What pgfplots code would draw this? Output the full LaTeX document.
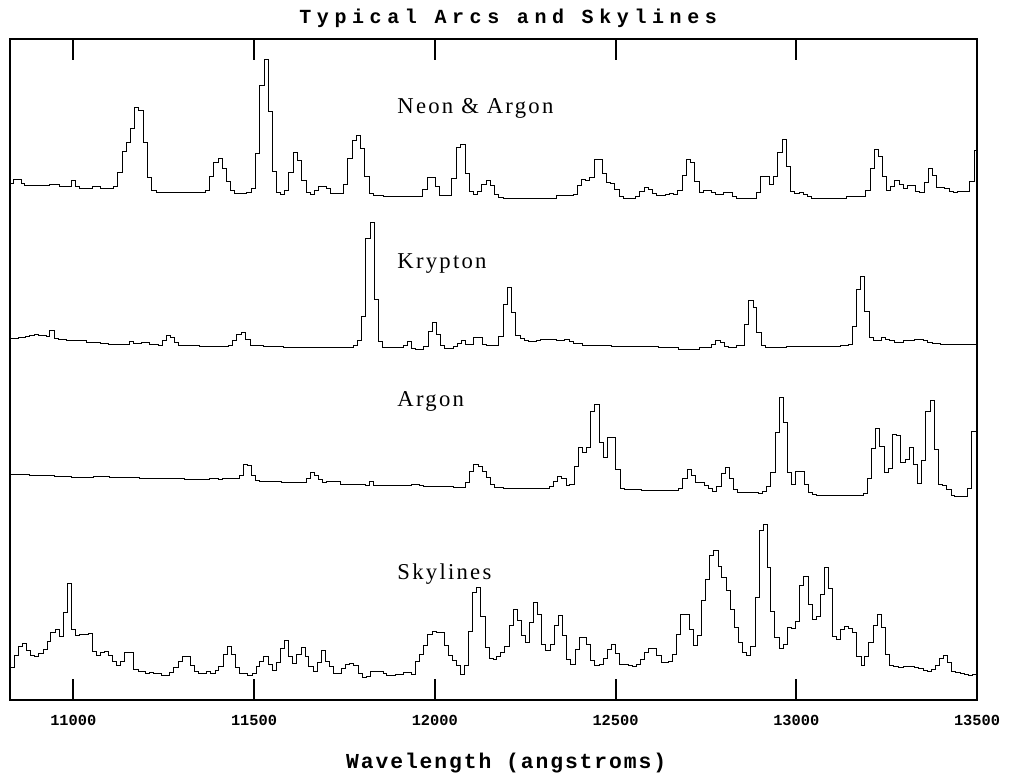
\documentclass[border=0pt]{standalone}
\usepackage{pgfplots}
\pgfplotsset{compat=1.18}
\usepackage{fontspec}
\setmainfont{Liberation Serif}
\newfontfamily\titlefont{Liberation Mono}[LetterSpace=28]
\newfontfamily\xlabfont{Liberation Mono}[LetterSpace=9]
\newfontfamily\tickfont{Liberation Mono}
\newfontfamily\labelfont{Liberation Serif}[LetterSpace=10]
\begin{document}
\begin{tikzpicture}
\useasboundingbox (0,0) rectangle (762pt,585pt);
\begin{axis}[
  at={(7.5pt,60pt)}, anchor=south west,
  scale only axis, width=725.25pt, height=495.75pt,
  xmin=10825, xmax=13500, ymin=0, ymax=661,
  xtick={11000,11500,12000,12500,13000,13500}, ytick=\empty,
  scaled x ticks=false,
  tick align=inside, xtick pos=both,
  major tick length=15.75pt,
  every tick/.style={black, line width=1.5pt},
  axis line style={line width=1.5pt},
  /pgf/number format/assume math mode=true,
  /pgf/number format/1000 sep={},
  x tick label style={font=\tickfont\bfseries\fontsize{11.5}{13}\selectfont, anchor=base, yshift=-19.5pt},
  title={\titlefont\bfseries\fontsize{15}{18}\selectfont Typical Arcs and Skylines},
  every axis title/.style={at={(0.5,1)}, anchor=base, yshift=11.25pt, xshift=11pt},
  xlabel={\xlabfont\bfseries\fontsize{16}{18}\selectfont Wavelength (angstroms)},
  xlabel style={at={(0.5,0)}, anchor=base, yshift=-51.75pt, xshift=9.5pt},
  clip=true,
]
% Neon & Argon
\addplot[const plot, black, line width=0.7pt] table {
x y
10825 516.7
10834 520.7
10857 516.7
10866 514.7
10935 515.7
10961 514
10995 519.7
11007 514
11018 511.7
11053 513.7
11074 512
11111 514
11123 527.3
11135 548.3
11146 557.3
11157 571.7
11169 592.3
11181 590
11194 557.3
11205 522.7
11217 509.3
11231 508
11295 507.3
11366 510
11376 523.3
11389 537.7
11401 541.7
11413 531.7
11424 518.3
11435 510
11447 506.7
11479 507.7
11493 511.7
11504 546.7
11516 615
11528 641
11540 588.3
11551 529
11562 507.7
11574 505.7
11585 510
11596 527.7
11609 547.3
11621 540
11632 520
11644 507.3
11655 506
11667 509.3
11678 513.3
11701 511.3
11712 506.5
11747 515.7
11759 541.7
11771 560
11784 564.3
11795 551.7
11805 524
11818 506.7
11830 504.3
11858 503.3
11966 511
11979 522.7
12002 513.3
12014 505
12025 504.3
12047 521.7
12059 552.3
12070 555.7
12084 526.7
12096 508.3
12107 505.7
12118 508.3
12130 515.7
12142 519.3
12153 515
12165 506
12176 502.7
12190 501.7
12337 504.5
12383 506
12394 515
12406 520.7
12418 520
12429 522.7
12441 541
12464 526.7
12475 517.7
12487 516.7
12498 510.7
12510 504
12521 501.7
12556 504
12567 508.3
12580 512.3
12591 510.7
12603 506.7
12614 505
12637 505.5
12648 506.7
12660 506
12672 510
12684 525
12695 541
12708 537.7
12718 518.3
12731 507.7
12743 509.3
12766 507.3
12777 506
12798 507.7
12823 504
12835 501.3
12890 507.3
12902 523.3
12914 524
12927 516
12938 523.3
12949 547.7
12961 561
12973 533.3
12984 508.3
12996 506.7
13008 508
13019 506
13031 503.3
13043 501.7
13140 503.3
13192 510
13204 531.7
13215 551
13227 543.3
13238 523.3
13250 509.3
13261 513.3
13273 519.3
13285 516
13296 511.7
13307 515
13331 509
13342 507.7
13354 517.3
13365 531.7
13377 525
13388 512.3
13411 511.7
13423 508.3
13435 507.3
13446 508.3
13480 518.3
13492 550
13500 550
};
% Krypton
\addplot[const plot, black, line width=0.7pt] table {
x y
10825 361.7
10848 362.3
10869 363.3
10880 365
10892 366
10903 364.3
10926 363.3
10935 369.3
10947 361.7
10959 360.7
10982 359.3
11037 357.7
11074 356.7
11097 355.7
11155 358.3
11166 356.7
11189 357.3
11212 356
11235 355
11246 359.3
11258 364.3
11269 362.7
11281 357.3
11292 354.3
11350 354
11406 353.3
11429 355
11441 360
11452 366
11466 367.7
11477 360.7
11489 355
11526 354
11581 352.7
11775 355
11786 360
11798 383.3
11809 461.7
11821 477.7
11833 401
11845 358.3
11856 353
11867 352.3
11913 355
11924 358.3
11936 351.7
11948 351
11970 353.3
11982 368.3
11993 377.7
12005 366
12016 354.3
12028 351.7
12051 353.3
12062 356.7
12074 359.3
12086 356
12108 362.7
12131 356
12143 355
12166 354.3
12177 363.3
12189 396
12201 412.3
12212 387.7
12224 365
12236 361.7
12247 359.3
12259 358.3
12282 360
12293 361
12337 360
12360 361
12374 358.3
12385 356.7
12408 355
12448 354.3
12489 353.3
12595 354
12618 352.3
12674 351
12731 352.3
12766 355.7
12777 360
12789 357.3
12801 353.3
12812 352.3
12835 354.3
12847 355
12858 376
12868 400
12881 392.7
12891 367.3
12903 354.3
12915 352.3
12973 354
13043 353.3
13121 354.3
13144 356
13156 373.3
13167 411
13178 423.3
13190 389
13202 362.7
13213 360
13236 362.7
13248 360.7
13259 359.3
13273 357.7
13296 359.3
13328 361
13351 359.3
13363 357.7
13377 356.7
13398 356
13500 356
};
% Argon
\addplot[const plot, black, line width=0.7pt] table {
x y
10825 225.7
10880 224.7
10949 224
10995 223
11055 224
11101 222.7
11184 221.7
11309 220.7
11378 221.7
11401 220.7
11413 222
11459 225
11470 235.7
11482 235
11494 225
11505 219.3
11516 218.3
11576 217.3
11644 221.7
11655 227.7
11667 225
11679 220.7
11690 217.7
11701 219
11724 218.3
11740 216
11807 215
11819 218.3
11830 215
11936 216
11957 215
11970 213.3
12014 214
12039 213.3
12051 212.7
12085 217.3
12097 228.3
12108 235.7
12120 233.3
12131 228.3
12143 222.3
12154 215.7
12166 212.7
12189 211.7
12317 214
12328 219
12340 223.3
12351 221.7
12363 215
12374 215.7
12386 234
12397 252.7
12409 247.3
12420 252.3
12432 288.3
12443 295.7
12455 257.7
12466 242.3
12478 262.3
12490 262.7
12501 230.7
12514 211.7
12526 210.7
12572 209.3
12609 210
12641 209.3
12674 211.7
12686 221.7
12699 230.7
12711 225
12722 217.7
12745 215
12757 211.7
12768 208.3
12780 213.3
12792 226.7
12803 232.7
12815 221.7
12826 211
12838 207.7
12895 206.7
12907 208.3
12918 213.3
12930 227.7
12942 267.7
12953 302.7
12965 277.7
12976 227.7
12988 215.7
12999 228.3
13010 229
13022 216
13034 207.7
13045 206
13056 205
13185 206.7
13197 221.7
13208 251.7
13220 271.7
13231 254
13243 227.7
13255 231.7
13266 265.7
13278 264.3
13289 237.7
13301 240.7
13313 252.7
13324 235.7
13335 216.7
13347 239.3
13358 289
13370 300
13381 250.7
13393 216
13405 215
13416 211
13428 205
13439 204
13473 211.7
13485 268.3
13500 268.3
};
% Skylines
\addplot[const plot, black, line width=0.7pt] table {
x y
10825 32.7
10837 45
10848 53.3
10860 56.7
10871 49.3
10882 45
10894 43.3
10905 46.7
10917 50.7
10928 58.3
10938 67.7
10951 71
10961 64
10972 87.3
10984 116.7
10995 71
11007 65
11018 65.7
11041 66.7
11052 48.3
11065 45
11076 47.7
11087 49
11097 44.3
11109 38.3
11120 34.3
11131 38.3
11143 47.3
11166 30.7
11180 28.3
11200 26.7
11212 27.7
11221 26.7
11244 25
11267 27.3
11278 32.7
11290 39
11302 43.3
11312 44
11323 35
11335 28.3
11346 26.7
11369 28.3
11380 26.7
11392 30
11403 34
11415 45.7
11426 53.3
11438 46
11449 32.7
11461 26.7
11481 25
11495 26.7
11507 34
11516 39
11527 43.3
11539 36
11550 30
11562 37.3
11572 51.7
11584 59.3
11596 43.3
11607 36.7
11618 45.7
11630 52.3
11641 43.3
11652 34
11664 28.3
11675 37.3
11687 49.3
11698 38.3
11710 33.3
11720 27
11742 31.7
11754 36
11765 36.7
11776 34.3
11788 26.7
11799 22.3
11811 24
11822 28.3
11858 26.7
11867 24.3
11890 26
11913 27.3
11936 26
11948 38.3
11959 46
11970 55
11981 65.7
11993 69
12005 67.3
12028 55
12037 44.3
12049 40
12060 34.3
12070 26
12082 34.3
12093 68.3
12105 107.3
12116 112.3
12127 84
12139 52.7
12150 41.7
12162 41
12171 43.3
12182 47.3
12194 53.3
12206 74.3
12217 90.7
12228 80
12240 64.3
12251 57.3
12261 77.3
12272 97.7
12284 86
12295 56
12307 50
12319 55.7
12330 74.3
12342 84.3
12353 65
12365 41
12376 36
12388 51
12399 62.3
12420 56
12431 40
12443 34.3
12455 35.7
12466 41.7
12478 50.7
12489 55.7
12500 46.7
12512 36
12535 35
12547 33.3
12558 36
12569 41
12581 47.3
12592 51.7
12614 45
12627 37.3
12646 38.3
12658 45.7
12669 66
12681 86
12704 70.7
12715 55
12726 64.3
12738 99.3
12749 120.7
12761 145
12772 149.3
12784 133.3
12794 122.3
12806 109.3
12817 90.7
12828 72.7
12840 57.3
12852 47.3
12863 45
12874 53.3
12886 102.7
12897 170
12909 175.7
12920 132.3
12930 89
12941 62.7
12953 51.7
12964 55.7
12976 72.3
12987 71.7
12998 79
13008 114.3
13020 123.3
13033 95.7
13044 80.7
13055 84
13066 105.7
13077 132.3
13089 111.7
13100 63.3
13112 60.7
13123 70.7
13133 73.3
13144 71.7
13156 67.3
13167 44
13179 35
13190 44
13201 57.3
13213 75
13224 86
13236 72.3
13247 45.7
13259 35
13270 33.3
13282 32.3
13296 33.3
13328 32.7
13339 31.7
13351 30
13363 29
13373 31
13384 35
13395 41.7
13407 45
13418 37.3
13430 29
13441 27.3
13453 26.7
13464 25.7
13476 24.3
13487 25.7
13500 25.7
};
\node[anchor=base west, inner sep=0pt, font=\labelfont\fontsize{17}{20}\selectfont] at (axis cs:11896,586) {Neon \& Argon};
\node[anchor=base west, inner sep=0pt, font=\labelfont\fontsize{17}{20}\selectfont] at (axis cs:11896,431.7) {Krypton};
\node[anchor=base west, inner sep=0pt, font=\labelfont\fontsize{17}{20}\selectfont] at (axis cs:11896,293.3) {Argon};
\node[anchor=base west, inner sep=0pt, font=\labelfont\fontsize{17}{20}\selectfont] at (axis cs:11896,120.7) {Skylines};
\end{axis}
\end{tikzpicture}
\end{document}
